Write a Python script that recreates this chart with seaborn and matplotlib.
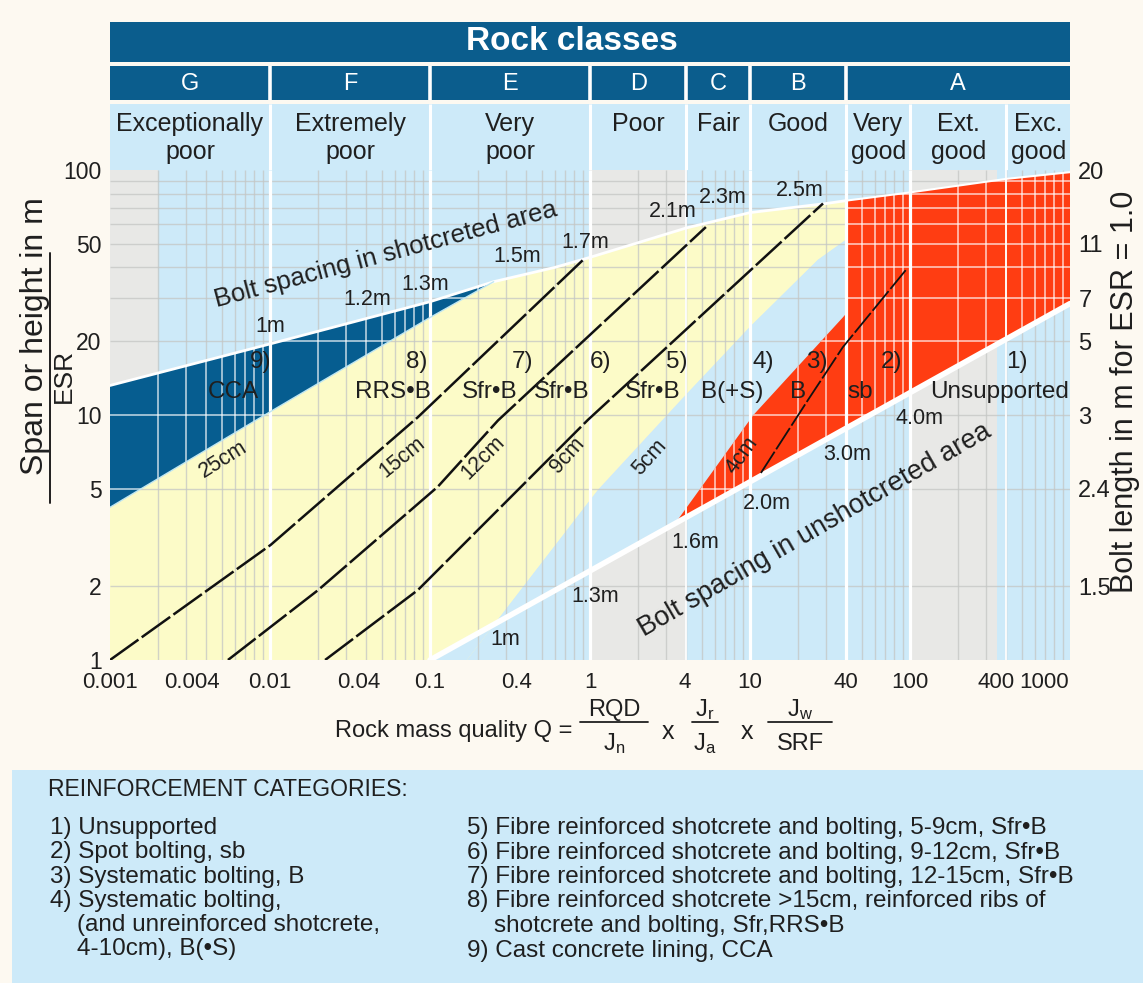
import matplotlib
matplotlib.use("Agg")
import matplotlib.pyplot as plt
from matplotlib.patches import Rectangle
from matplotlib.lines import Line2D
from matplotlib.transforms import ScaledTranslation
import pandas as pd
import seaborn as sns

W, H = 1143, 983

# ---- axis ticks -------------------------------------------------------------
q_ticks = [0.001, 0.004, 0.01, 0.04, 0.1, 0.4, 1, 4, 10, 40, 100, 400, 1000]
q_tick_labels = ["0.001", "0.004", "0.01", "0.04", "0.1", "0.4", "1", "4",
                 "10", "40", "100", "400", "1000"]
span_ticks = [1, 2, 5, 10, 20, 50, 100]
span_tick_labels = ["1", "2", "5", "10", "20", "50", "100"]
bolt_len_at_span = [2, 5, 10, 20, 30, 50, 100]
bolt_len_labels = ["1.5", "2.4", "3", "5", "7", "11", "20"]

# ---- rock classes -----------------------------------------------------------
class_edges = [0.001, 0.01, 0.1, 1, 4, 10, 40, 1000]
class_letters = ["G", "F", "E", "D", "C", "B", "A"]
quality_edges = [0.001, 0.01, 0.1, 1, 4, 10, 40, 100, 400, 1000]
quality_names = ["Exceptionally\npoor", "Extremely\npoor", "Very\npoor", "Poor",
                 "Fair", "Good", "Very\ngood", "Ext.\ngood", "Exc.\ngood"]

# ---- support category boundaries (Q, span/ESR) ------------------------------
cca_bottom_q = [0.001, 0.01, 0.1, 0.25]          # 25cm line
cca_bottom_span = [4.2, 10.3, 25, 35]
cca_top_q = [0.001, 0.01, 0.1, 0.25]
cca_top_span = [13.2, 19.5, 29, 35]
shot_top_q = [0.25, 0.6, 1, 4, 10, 30, 40]       # bolt spacing, shotcreted
shot_top_span = [35, 40, 44, 58, 67, 73, 75]
fibre_limit_q = [0.17, 0.274, 1.12, 3.7, 10, 26.6, 40]   # 5cm line
fibre_limit_span = [1, 1.5, 4.94, 11.5, 22.9, 43, 52]
bolt_limit_q = [3.5, 10.5, 38, 40]                # 4cm line
bolt_limit_span = [3.7, 10, 25, 26]
red_top_q = [40, 100, 400, 1000]
red_top_span = [75, 81, 92, 98]
unsupported_q = [0.1, 1000]                        # bolt spacing, unshotcreted
unsupported_span = [1, 28.5]

div_15_q = [0.001, 0.0101, 0.084, 0.93]
div_15_span = [1, 2.95, 9.8, 43.7]
div_12_q = [0.00546, 0.02, 0.112, 0.266, 5.3]
div_12_span = [1, 1.93, 5.1, 9.5, 58.5]
div_9_q = [0.0221, 0.084, 0.97, 28.6]
div_9_span = [1, 1.93, 9.55, 73]
div_sb_q = [11.7, 23, 38, 94]
div_sb_span = [5.8, 11.5, 18.9, 39]

# ---- labels -----------------------------------------------------------------
shot_spacing = ["1m", "1.2m", "1.3m", "1.5m", "1.7m", "2.1m", "2.3m", "2.5m"]
shot_spacing_q = [0.01, 0.0403, 0.093, 0.35, 0.93, 3.3, 6.78, 20.5]
shot_spacing_span = [22.9, 29.5, 34, 44.2, 50.8, 67.4, 76.9, 82.8]
unshot_spacing = ["1m", "1.3m", "1.6m", "2.0m", "3.0m", "4.0m"]
unshot_spacing_q = [0.294, 1.07, 4.53, 12.8, 40.4, 115]
unshot_spacing_span = [1.21, 1.81, 3.03, 4.37, 6.87, 9.7]
thickness = ["25cm", "15cm", "12cm", "9cm", "5cm", "4cm"]
thickness_q = [0.0051, 0.067, 0.214, 0.72, 2.37, 8.9]
thickness_span = [6.56, 6.7, 6.7, 6.86, 6.7, 6.86]
thickness_rot = [32, 39, 45, 48, 48, 54]
cat_numbers = ["9)", "8)", "7)", "6)", "5)", "4)", "3)", "2)", "1)"]
cat_number_q = [0.0087, 0.083, 0.38, 1.16, 3.5, 12.05, 26.2, 77, 466]
cat_codes = ["CCA", "RRS\u2022B", "Sfr\u2022B", "Sfr\u2022B", "Sfr\u2022B", "B(+S)",
             "B", "sb", "Unsupported"]
cat_code_q = [0.0059, 0.0588, 0.237, 0.67, 2.48, 7.7, 20, 48.7, 365]

legend_left = ["1) Unsupported", "2) Spot bolting, sb", "3) Systematic bolting, B",
               "4) Systematic bolting,", "    (and unreinforced shotcrete,",
               "    4-10cm), B(\u2022S)"]
legend_right = ["5) Fibre reinforced shotcrete and bolting, 5-9cm, Sfr\u2022B",
                "6) Fibre reinforced shotcrete and bolting, 9-12cm, Sfr\u2022B",
                "7) Fibre reinforced shotcrete and bolting, 12-15cm, Sfr\u2022B",
                "8) Fibre reinforced shotcrete >15cm, reinforced ribs of",
                "    shotcrete and bolting, Sfr,RRS\u2022B",
                "9) Cast concrete lining, CCA"]

# ---- colours ----------------------------------------------------------------
FIG_BG = "#fdf9f1"
HEAD_DARK = "#0b5d8d"
LIGHT_BLUE = "#cdeaf9"
GREY = "#e8e8e6"
CCA_BLUE = "#065d90"
YELLOW = "#fcfbc8"
RED = "#ff3d12"
INK = "#1f1f1f"

sns.set_theme(style="white")
plt.rcParams["font.family"] = ["Liberation Sans", "DejaVu Sans"]
plt.rcParams["mathtext.fontset"] = "custom"
plt.rcParams["mathtext.rm"] = "Liberation Sans"
plt.rcParams["mathtext.it"] = "Liberation Sans"


def fx(px):
    return px / W


def fy(py):
    return 1 - py / H


fig = plt.figure(figsize=(W / 100, H / 100), dpi=100, facecolor=FIG_BG)

# ---- main chart -------------------------------------------------------------
ax = fig.add_axes([fx(110), fy(660), 960 / W, 490 / H])
ax.set_xscale("log")
ax.set_yscale("log")
ax.set_xlim(0.001, 1000)
ax.set_ylim(1, 100)
ax.set_facecolor(LIGHT_BLUE)
for s in ax.spines.values():
    s.set_visible(False)

# printed texture columns
for q0, q1 in [(0.001, 0.002), (1, 4), (100, 350)]:
    ax.add_patch(Rectangle((q0, 1), q1 - q0, 99, color=GREY, lw=0, zorder=1))

yellow_q = [0.001] + cca_bottom_q + shot_top_q[1:] + fibre_limit_q[::-1]
yellow_s = [1] + cca_bottom_span + shot_top_span[1:] + fibre_limit_span[::-1]
ax.fill(yellow_q, yellow_s, color=YELLOW, lw=0, zorder=2)

cat4_q = fibre_limit_q + bolt_limit_q[::-1] + [unsupported_q[0]]
cat4_s = fibre_limit_span + bolt_limit_span[::-1] + [unsupported_span[0]]
ax.fill(cat4_q, cat4_s, color=LIGHT_BLUE, lw=0, zorder=2)

# grid lines over the light areas
minor_q = [m * 10.0 ** e for e in range(-3, 3) for m in range(2, 10)]
grid_span = [2, 5, 10, 20, 30, 40, 50, 60, 70, 80, 90]
ax.vlines(minor_q, 1, 100, color="#c4c6c4", lw=1.0, alpha=0.75, zorder=3)
ax.hlines(grid_span, 0.001, 1000, color="#c4c6c4", lw=1.0, alpha=0.75, zorder=3)

red_q = bolt_limit_q + red_top_q + [unsupported_q[1]]
red_s = bolt_limit_span + red_top_span + [unsupported_span[1]]
red_poly = ax.fill(red_q, red_s, color=RED, lw=0, zorder=4)[0]

cca_q = cca_bottom_q + cca_top_q[::-1][1:]
cca_s = cca_bottom_span + cca_top_span[::-1][1:]
cca_poly = ax.fill(cca_q, cca_s, color=CCA_BLUE, lw=0, zorder=4)[0]

# light grid lines inside the dark areas
for poly in (red_poly, cca_poly):
    vl = ax.vlines(minor_q, 1, 100, color="white", lw=1.3, alpha=0.65, zorder=5)
    hl = ax.hlines(grid_span, 0.001, 1000, color="white", lw=1.3, alpha=0.65, zorder=5)
    vl.set_clip_path(poly)
    hl.set_clip_path(poly)

ax.vlines([0.01, 0.1, 1, 10, 40, 100], 1, 100, color="white", lw=2.3, zorder=6)
ax.vlines([4, 400], 1, 100, color="white", lw=1.4, alpha=0.9, zorder=6)

# bolt spacing boundaries
shot_line = pd.DataFrame({"Q": cca_top_q + shot_top_q[1:],
                          "span": cca_top_span + shot_top_span[1:]})
sns.lineplot(data=shot_line, x="Q", y="span", ax=ax, color="white", lw=2.0,
             sort=False, estimator=None, zorder=7)
red_edge = pd.DataFrame({"Q": red_top_q, "span": red_top_span})
sns.lineplot(data=red_edge, x="Q", y="span", ax=ax, color="white", lw=1.5,
             sort=False, estimator=None, zorder=7)
unshot_line = pd.DataFrame({"Q": unsupported_q, "span": unsupported_span})
sns.lineplot(data=unshot_line, x="Q", y="span", ax=ax, color="white", lw=4.0,
             sort=False, estimator=None, zorder=7)
cca_edge = pd.DataFrame({"Q": cca_bottom_q, "span": cca_bottom_span})
sns.lineplot(data=cca_edge, x="Q", y="span", ax=ax, color="#bfe6f2", lw=1.0,
             sort=False, estimator=None, zorder=7)

# category dividers
for dq, ds, lw in [(div_15_q, div_15_span, 1.8), (div_12_q, div_12_span, 1.8),
                   (div_9_q, div_9_span, 1.8), (div_sb_q, div_sb_span, 1.3)]:
    df = pd.DataFrame({"Q": dq, "span": ds})
    sns.lineplot(data=df, x="Q", y="span", ax=ax, color="#111111", lw=lw,
                 linestyle=(0, (14, 1.6)), sort=False, estimator=None, zorder=8)

ax.set_xlabel("")
ax.set_ylabel("")

# labels inside the chart
txt = dict(color=INK, zorder=9, ha="center", va="center")
ax.text(0.0525, 45, "Bolt spacing in shotcreted area", fontsize=18.5,
        rotation=15, rotation_mode="anchor", **txt)
ax.text(25.5, 3.39, "Bolt spacing in unshotcreted area", fontsize=19.5,
        rotation=30, rotation_mode="anchor", **txt)
for t, q, s in zip(shot_spacing, shot_spacing_q, shot_spacing_span):
    ax.text(q, s, t, fontsize=15.5, **txt)
for t, q, s in zip(unshot_spacing, unshot_spacing_q, unshot_spacing_span):
    ax.text(q, s, t, fontsize=15.5, **txt)
for t, q, s, r in zip(thickness, thickness_q, thickness_span, thickness_rot):
    ax.text(q, s, t, fontsize=15.5, rotation=r, rotation_mode="anchor", **txt)
for t, q in zip(cat_numbers, cat_number_q):
    ax.text(q, 16.5, t, fontsize=17.5, **txt)
for t, q in zip(cat_codes, cat_code_q):
    ax.text(q, 12.4, t, fontsize=17.5, **txt)

# ticks
ax.set_xticks(q_ticks)
ax.set_xticklabels(q_tick_labels)
ax.xaxis.set_minor_locator(matplotlib.ticker.NullLocator())
ax.set_yticks(span_ticks)
ax.set_yticklabels(span_tick_labels)
ax.yaxis.set_minor_locator(matplotlib.ticker.NullLocator())
ax.tick_params(axis="x", length=0, pad=9, labelsize=16, labelcolor=INK)
ax.tick_params(axis="y", length=0, pad=6, labelsize=16.5, labelcolor=INK)
# nudge crowded labels (pixels) so neighbours do not collide
x_label_nudge = [0, -14, 0, -8, 0, -10, 0, -2, 0, 0, 0, -10, -26]
for lab, dx in zip(ax.get_xticklabels(), x_label_nudge):
    lab.set_transform(lab.get_transform() + ScaledTranslation(dx / 100, 0, fig.dpi_scale_trans))

ax2 = ax.twinx()
ax2.set_yscale("log")
ax2.set_ylim(1, 100)
ax2.set_yticks(bolt_len_at_span)
ax2.set_yticklabels(bolt_len_labels)
ax2.yaxis.set_minor_locator(matplotlib.ticker.NullLocator())
ax2.tick_params(axis="y", length=0, pad=6, labelsize=17, labelcolor=INK)
for s in ax2.spines.values():
    s.set_visible(False)

# ---- rock class header ------------------------------------------------------
hd = fig.add_axes([fx(110), fy(170), 960 / W, 148 / H])
hd.set_xscale("log")
hd.set_xlim(0.001, 1000)
hd.set_ylim(170, 22)
hd.axis("off")
hd.add_patch(Rectangle((0.001, 22), 999.999, 40, color=HEAD_DARK, lw=0))
hd.add_patch(Rectangle((0.001, 66), 999.999, 34, color=HEAD_DARK, lw=0))
hd.add_patch(Rectangle((0.001, 104), 999.999, 66, color=LIGHT_BLUE, lw=0))
hd.vlines(class_edges[1:-1], 66, 100, color="white", lw=2.6)
hd.vlines(quality_edges[1:-1], 104, 170, color="white", lw=2.2)
hd.text(0.77, 42, "Rock classes", color="white", fontsize=24, fontweight="bold",
        ha="center", va="center")
for i, letter in enumerate(class_letters):
    qc = (class_edges[i] * class_edges[i + 1]) ** 0.5
    hd.text(qc, 84, letter, color="white", fontsize=17, ha="center", va="center")
for i, name in enumerate(quality_names):
    qc = (quality_edges[i] * quality_edges[i + 1]) ** 0.5
    hd.text(qc, 112, name, color=INK, fontsize=18, ha="center", va="top",
            linespacing=1.2)

# ---- axis titles ------------------------------------------------------------
fig.text(fx(35), fy(336), "Span or height in m", rotation=90, fontsize=23,
         color=INK, ha="center", va="center")
fig.add_artist(Line2D([fx(50), fx(50)], [fy(253), fy(503)], color=INK, lw=1.4))
fig.text(fx(64), fy(376), "ESR", rotation=90, fontsize=19, color=INK,
         ha="center", va="center")
fig.text(fx(1125), fy(392), "Bolt length in m for ESR = 1.0", rotation=90,
         fontsize=22, color=INK, ha="center", va="center")

fig.text(fx(572), fy(731), "Rock mass quality Q =", fontsize=17, color=INK,
         ha="right", va="center")
for num, den, xc, x0, x1 in [("RQD", r"$\mathrm{J_n}$", 614, 580, 648),
                              (r"$\mathrm{J_r}$", r"$\mathrm{J_a}$", 705, 692, 718),
                              (r"$\mathrm{J_w}$", "SRF", 800, 768, 832)]:
    fig.text(fx(xc), fy(710), num, fontsize=17, color=INK, ha="center", va="center")
    fig.add_artist(Line2D([fx(x0), fx(x1)], [fy(722), fy(722)], color=INK, lw=1.3))
    fig.text(fx(xc), fy(744), den, fontsize=17, color=INK, ha="center", va="center")
fig.text(fx(668), fy(732), "x", fontsize=18, color=INK, ha="center", va="center")
fig.text(fx(747), fy(732), "x", fontsize=18, color=INK, ha="center", va="center")

# ---- reinforcement legend ---------------------------------------------------
fig.add_artist(Rectangle((fx(12), 0), 1 - fx(12), fy(770), color=LIGHT_BLUE,
                         lw=0, transform=fig.transFigure, zorder=0))
fig.text(fx(48), fy(789), "REINFORCEMENT CATEGORIES:", fontsize=16.5, color=INK,
         ha="left", va="center")
for i, line in enumerate(legend_left):
    fig.text(fx(50), fy(828 + 24.3 * i), line, fontsize=17.5, color=INK,
             ha="left", va="center")
for i, line in enumerate(legend_right):
    fig.text(fx(467), fy(828 + 24.5 * i), line, fontsize=17.5, color=INK,
             ha="left", va="center")

fig.savefig("out.png", dpi=100, facecolor=FIG_BG)
